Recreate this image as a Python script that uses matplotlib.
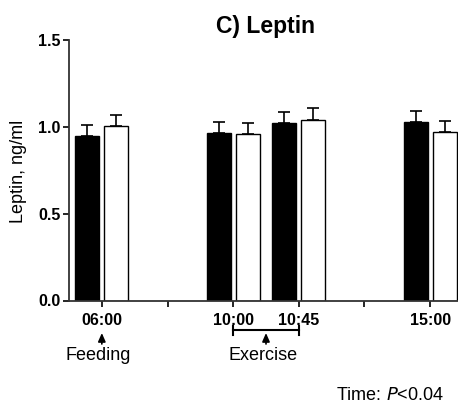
import matplotlib
matplotlib.use("Agg")
import matplotlib.pyplot as plt
import numpy as np
from matplotlib.transforms import blended_transform_factory

# ---------------------------------------------------------------------------
# Data
# ---------------------------------------------------------------------------
tick_labels = ["06:00", "", "10:00", "10:45", "", "15:00"]
sample_slots = [0, 2, 3, 5]            # slots that have measurements
black_mean = [0.945, 0.962, 1.022, 1.025]
black_sem = [0.066, 0.064, 0.065, 0.066]
white_mean = [1.002, 0.958, 1.042, 0.970]
white_sem = [0.064, 0.064, 0.064, 0.066]

plt.rcParams["font.family"] = ["Liberation Sans", "DejaVu Sans"]

fig = plt.figure(figsize=(4.58, 4.05), dpi=100)
W, H = 458, 405
ax = fig.add_axes([69 / W, 1 - 300.5 / H, 394 / W, 260.5 / H])

x = np.array(sample_slots, dtype=float)
off = 0.22
bw = 0.365
ax.bar(x - off, black_mean, bw, color="black", edgecolor="black", linewidth=1, zorder=2)
ax.bar(x + off, white_mean, bw, color="white", edgecolor="black", linewidth=1, zorder=2)
ax.errorbar(x - off, black_mean, yerr=[np.zeros(len(x)), black_sem], fmt="none",
            ecolor="black", elinewidth=1.2, capsize=4.5, capthick=1.2, zorder=1)
ax.errorbar(x + off, white_mean, yerr=[np.zeros(len(x)), white_sem], fmt="none",
            ecolor="black", elinewidth=1.2, capsize=4.5, capthick=1.2, zorder=1)

ax.set_xlim(-0.5, 5.5)
ax.set_ylim(0, 1.5)
ax.set_xticks(range(len(tick_labels)))
ax.set_xticklabels(tick_labels, fontsize=11.5, fontweight="bold")
ax.set_yticks([0.0, 0.5, 1.0, 1.5])
ax.set_yticklabels(["0.0", "0.5", "1.0", "1.5"], fontsize=11.5, fontweight="bold")
ax.tick_params(axis="both", direction="out", length=4, width=1.2, pad=2)
ax.tick_params(axis="x", pad=5)
for s in ("top", "right"):
    ax.spines[s].set_visible(False)
for s in ("left", "bottom"):
    ax.spines[s].set_linewidth(1.3)
    ax.spines[s].set_color("#333333")

fig.text(19 / W, 1 - 171 / H, "Leptin, ng/ml", fontsize=13, rotation=90,
         ha="center", va="center")
fig.text(265 / W, 1 - 26 / H, "C) Leptin", fontsize=16.5, fontweight="bold",
         ha="center", va="center")

# annotations below the axis
tr = blended_transform_factory(ax.transData, fig.transFigure)
def fy(py):
    return 1 - py / H

arrow = dict(arrowstyle="-|>,head_length=0.5,head_width=0.22", color="black", lw=1.2,
             shrinkA=0, shrinkB=0)
ax.annotate("", xy=(0, fy(333)), xytext=(0, fy(344)), xycoords=tr, textcoords=tr,
            arrowprops=arrow, annotation_clip=False)
ax.text(-0.06, fy(356), "Feeding", transform=tr, fontsize=13, ha="center", va="center")

ax.annotate("", xy=(2.5, fy(333)), xytext=(2.5, fy(344)), xycoords=tr, textcoords=tr,
            arrowprops=arrow, annotation_clip=False)
ax.plot([2, 3], [fy(330), fy(330)], transform=tr, color="black", lw=1.5, clip_on=False)
for xx in (2, 3):
    ax.plot([xx, xx], [fy(326), fy(335)], transform=tr, color="black", lw=1.5, clip_on=False)
ax.text(2.45, fy(356), "Exercise", transform=tr, fontsize=13, ha="center", va="center")

fig.text(444 / W, 1 - 395 / H, "Time: $\\mathit{P}$<0.04", fontsize=13, ha="right", va="center")

fig.savefig("out.png", dpi=100)
